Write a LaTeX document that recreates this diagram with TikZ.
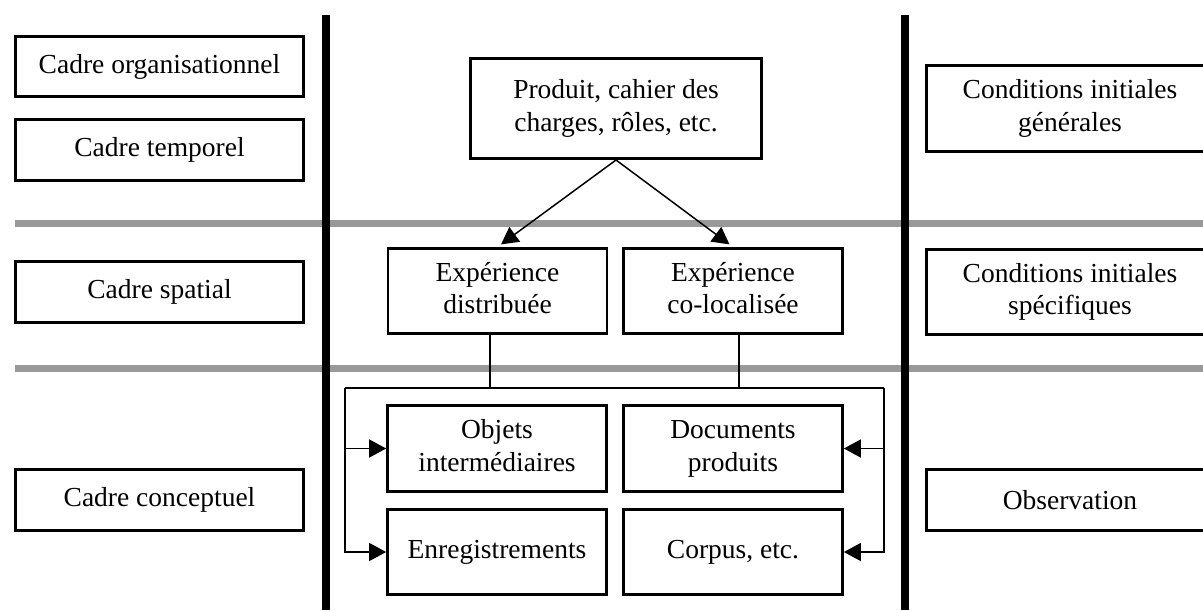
\documentclass[tikz,border=0pt]{standalone}
\usepackage{fontspec}
\setmainfont{Liberation Serif}
\usetikzlibrary{arrows.meta}
\tikzset{
  box/.style={draw, line width=1.35pt, align=center, inner sep=0pt, fill=white,
    font=\fontsize{13.75pt}{16.3pt}\selectfont},
  leftbox/.style={box, minimum width=144.2pt},
  midbox/.style={box, minimum width=109.5pt},
  rightbox/.style={box, minimum width=143.7pt},
  grayline/.style={line width=3.5pt, draw={rgb,255:red,153;green,153;blue,153}},
  thickline/.style={line width=4pt},
  conn/.style={line width=0.75pt},
  tip/.style={-{Triangle[length=8.5pt,width=9pt]}}
}
\begin{document}
\begin{tikzpicture}[x=0.5pt,y=-0.5pt]
\useasboundingbox (0,0) rectangle (1203,610);
\begin{scope}
\clip (0,0) rectangle (1203,610);
% horizontal separators
\draw[grayline] (15,223.5) -- (1203,223.5);
\draw[grayline] (15,368) -- (1203,368);
% vertical separators
\draw[thickline] (326,15) -- (326,610);
\draw[thickline] (904.5,15) -- (904.5,610);
% left column
\node[leftbox, minimum height=30.15pt] (org) at (159.5,66.5) {Cadre organisationnel};
\node[leftbox, minimum height=30.65pt] (temp) at (159.5,150) {Cadre temporel};
\node[leftbox, minimum height=30.65pt] (spat) at (159.5,292) {Cadre spatial};
\node[leftbox, minimum height=30.65pt] (conc) at (159.5,500) {Cadre conceptuel};
% middle column
\node[box, minimum width=145.65pt, minimum height=50.15pt] (prod) at (616,108.5) {Produit, cahier des\strut\\charges, rôles, etc.\strut};
\node[midbox, minimum height=42.65pt] (dist) at (497.5,291) {Expérience\strut\\distribuée\strut};
\node[midbox, minimum height=42.65pt] (coloc) at (733,291) {Expérience\strut\\co-localisée\strut};
\node[midbox, minimum height=43.15pt] (obj) at (497,448.5) {Objets\strut\\intermédiaires\strut};
\node[midbox, minimum height=43.15pt] (doc) at (733,448.5) {Documents\strut\\produits\strut};
\node[midbox, minimum height=42.65pt] (enr) at (497,552) {Enregistrements};
\node[midbox, minimum height=42.65pt] (corp) at (733,552) {Corpus, etc.};
% right column
\node[rightbox, minimum height=43.15pt] (gen) at (1070,108.5) {Conditions initiales\strut\\générales\strut};
\node[rightbox, minimum height=42.65pt] (spec) at (1070,292) {Conditions initiales\strut\\spécifiques\strut};
\node[rightbox, minimum height=30.65pt] (obs) at (1070,500) {Observation};
% connectors
\draw[conn, tip, shorten >=2.2pt] (prod.south) -- (dist.north);
\draw[conn, tip, shorten >=2.2pt] (prod.south) -- (coloc.north);
\coordinate (bl) at (345,388);
\coordinate (br) at (884,388);
\draw[conn] ([xshift=-3.75pt]dist.south) |- (bl);
\draw[conn] ([xshift=3pt]coloc.south) |- (br);
\draw[conn] (bl) -- (br);
\draw[conn, tip] (bl) |- (obj.west);
\draw[conn, tip] (bl) |- (enr.west);
\draw[conn, tip] (br) |- (doc.east);
\draw[conn, tip] (br) |- (corp.east);
\end{scope}
\end{tikzpicture}
\end{document}
